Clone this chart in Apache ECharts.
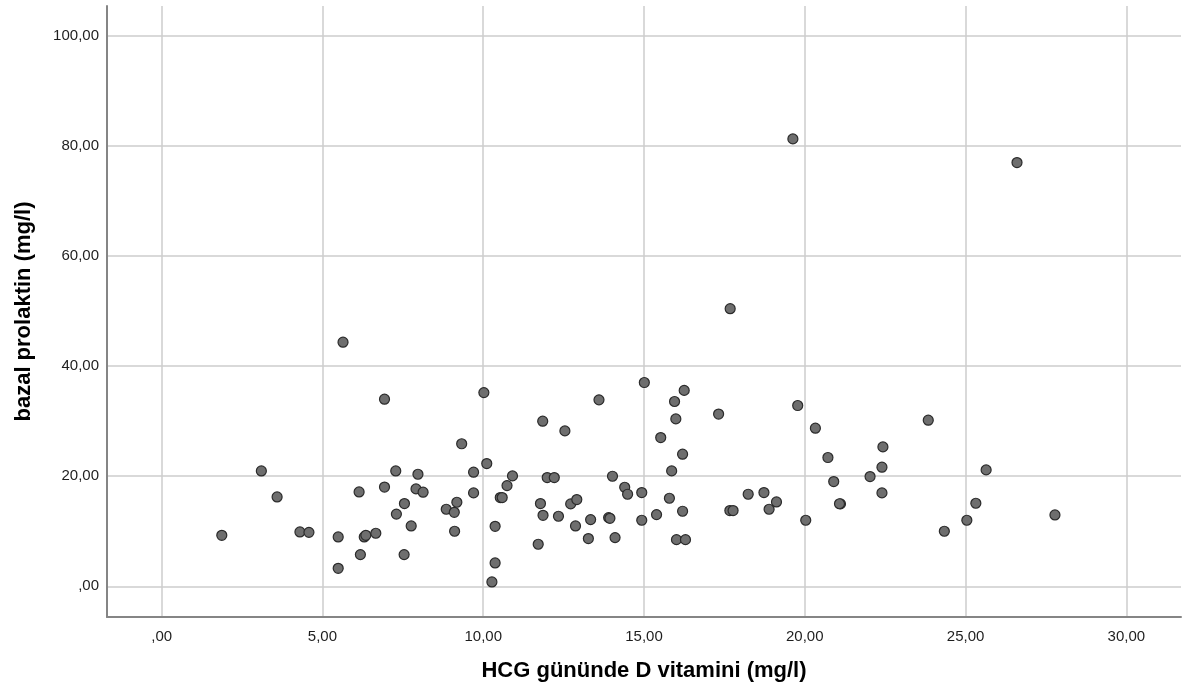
<!DOCTYPE html>
<html>
<head>
<meta charset="utf-8">
<script src="https://cdn.jsdelivr.net/npm/echarts@6/dist/echarts.min.js"></script>
<style>
html,body{margin:0;padding:0;background:#fff;}
#chart{width:1192px;height:697px;}
</style>
</head>
<body>
<div id="chart"></div>
<script>
// HCG gününde D vitamini (mg/l)
const vitD = [1.87,3.10,3.59,4.30,4.58,5.49,5.49,5.64,6.14,6.18,6.30,6.35,6.66,6.93,6.93,7.28,7.30,7.55,7.54,7.76,
  7.91,7.97,8.13,8.85,9.10,9.11,9.18,9.33,9.70,9.70,10.02,10.11,10.27,10.37,10.37,10.53,10.59,10.74,10.91,11.71,
  11.78,11.85,11.86,11.99,12.21,12.34,12.54,12.72,12.87,12.91,13.27,13.34,13.60,13.90,13.94,14.02,14.10,14.40,14.49,14.93,
  14.93,15.01,15.39,15.52,15.79,15.86,15.95,15.99,16.01,16.20,16.20,16.25,16.29,17.32,17.67,17.68,17.77,18.24,18.73,18.89,
  19.12,19.63,19.78,20.03,20.33,20.72,20.90,21.11,21.08,22.03,22.40,22.43,22.40,23.84,24.34,25.04,25.32,25.64,26.60,27.78];
// bazal prolaktin (mg/l)
const prolactin = [9.27,20.96,16.24,9.88,9.80,8.97,3.27,44.36,17.15,5.76,8.97,9.27,9.64,18.03,34.0,20.96,13.12,15.03,5.76,10.97,
  17.7,20.36,17.1,14.0,13.45,10.0,15.27,25.9,20.73,16.97,35.2,22.3,0.79,4.24,10.9,16.12,16.12,18.3,20.06,7.64,
  15.03,30.0,12.9,19.76,19.76,12.73,28.24,14.97,10.97,15.76,8.67,12.12,33.88,12.48,12.36,20.0,8.85,18.0,16.73,17.03,
  12.0,37.03,13.03,27.03,16.0,20.97,33.58,30.42,8.48,24.0,13.64,35.6,8.48,31.3,13.76,50.45,13.76,16.73,17.03,14.0,
  15.33,81.3,32.85,12.0,28.73,23.4,19.03,14.97,15.0,19.94,21.64,25.33,16.97,30.18,10.0,12.0,15.09,21.15,77.0,12.97];

const xTicks = [0,5,10,15,20,25,30];
const xTickLabels = [',00','5,00','10,00','15,00','20,00','25,00','30,00'];
const yTicks = [0,20,40,60,80,100];
const yTickLabels = [',00','20,00','40,00','60,00','80,00','100,00'];

const points = vitD.map((x, i) => [x, prolactin[i]]);

const chart = echarts.init(document.getElementById('chart'), null, {renderer: 'canvas'});
const fontFamily = '"Liberation Sans", Arial, sans-serif';
chart.setOption({
  animation: false,
  backgroundColor: '#ffffff',
  grid: {left: 107, top: 6, right: 11, bottom: 80, containLabel: false},
  xAxis: {
    type: 'value',
    min: -1.7, max: 31.7,
    name: 'HCG gününde D vitamini (mg/l)',
    nameLocation: 'middle',
    nameGap: 43,
    nameTextStyle: {fontFamily, fontSize: 22, fontWeight: 'bold', color: '#000'},
    axisLine: {show: true, onZero: false, lineStyle: {color: '#858585', width: 2}},
    axisTick: {show: false, customValues: xTicks},
    axisLabel: {
      customValues: xTicks,
      margin: 12,
      fontFamily, fontSize: 15, color: '#1e1e1e',
      formatter: v => xTickLabels[xTicks.indexOf(Math.round(v))] ?? ''
    },
    splitLine: {show: true, lineStyle: {color: '#cdcdcd', width: 1.5}}
  },
  yAxis: {
    type: 'value',
    min: -5.58, max: 105.45,
    name: 'bazal prolaktin (mg/l)',
    nameLocation: 'middle',
    nameGap: 72,
    nameTextStyle: {fontFamily, fontSize: 22, fontWeight: 'bold', color: '#000'},
    axisLine: {show: true, onZero: false, lineStyle: {color: '#858585', width: 2}},
    axisTick: {show: false, customValues: yTicks},
    axisLabel: {
      customValues: yTicks,
      margin: 8,
      fontFamily, fontSize: 15, color: '#1e1e1e',
      formatter: v => yTickLabels[yTicks.indexOf(Math.round(v))] ?? ''
    },
    splitLine: {show: true, lineStyle: {color: '#cdcdcd', width: 1.5}}
  },
  series: [{
    type: 'scatter',
    data: points,
    symbol: 'circle',
    symbolSize: 10,
    itemStyle: {color: '#6e6e6e', borderColor: '#2b2b2b', borderWidth: 1.2, opacity: 1}
  }]
});
</script>
</body>
</html>
